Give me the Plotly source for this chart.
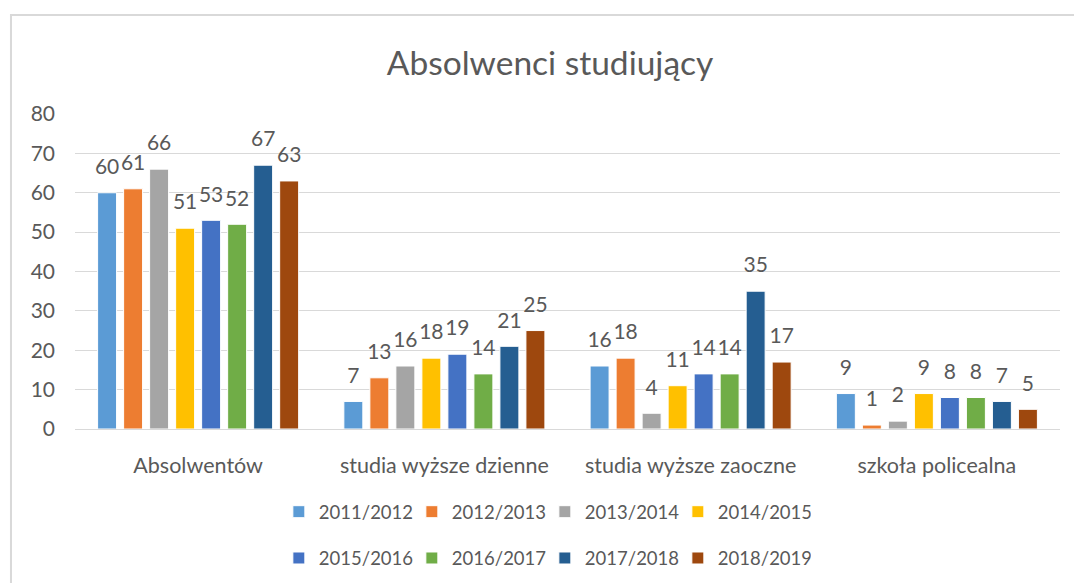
import plotly.graph_objects as go

categories = ["Absolwentów", "studia wyższe dzienne", "studia wyższe zaoczne", "szkoła policealna"]
series_names = ["2011/2012", "2012/2013", "2013/2014", "2014/2015",
                "2015/2016", "2016/2017", "2017/2018", "2018/2019"]
v_2011_2012 = [60, 7, 16, 9]
v_2012_2013 = [61, 13, 18, 1]
v_2013_2014 = [66, 16, 4, 2]
v_2014_2015 = [51, 18, 11, 9]
v_2015_2016 = [53, 19, 14, 8]
v_2016_2017 = [52, 14, 14, 8]
v_2017_2018 = [67, 21, 35, 7]
v_2018_2019 = [63, 25, 17, 5]
series_values = [v_2011_2012, v_2012_2013, v_2013_2014, v_2014_2015,
                 v_2015_2016, v_2016_2017, v_2017_2018, v_2018_2019]
colors = ["#5B9BD5", "#ED7D31", "#A5A5A5", "#FFC000",
          "#4472C4", "#70AD47", "#255E91", "#9E480E"]
y_ticks = [0, 10, 20, 30, 40, 50, 60, 70, 80]

FONT = "Lato, Carlito, Calibri, sans-serif"
TXT = "#595959"
GAP = 0.155

fig = go.Figure()
for i, (name, vals, col) in enumerate(zip(series_names, series_values, colors)):
    fig.add_trace(go.Bar(
        x=categories, y=vals, name=name,
        marker=dict(color=col, line=dict(color="white", width=1)),
        offsetgroup=str(i), alignmentgroup="a",
        legend="legend" if i < 4 else "legend2",
        hoverinfo="x+y+name",
    ))
for i, (name, vals) in enumerate(zip(series_names, series_values)):
    fig.add_trace(go.Scatter(
        x=categories, y=vals, name=name, mode="markers+text",
        text=[str(v) for v in vals], textposition="top center",
        textfont=dict(family=FONT, size=21, color=TXT),
        marker=dict(size=20, color="rgba(0,0,0,0)"),
        offsetgroup=str(i), alignmentgroup="a",
        showlegend=False, hoverinfo="skip", cliponaxis=False,
    ))

legend_common = dict(
    orientation="h", xanchor="center", yanchor="middle", x=0.477,
    font=dict(family=FONT, size=18.5, color=TXT),
    itemwidth=30, entrywidth=88, entrywidthmode="pixels",
    bgcolor="rgba(0,0,0,0)", itemclick=False, itemdoubleclick=False,
)

fig.update_layout(
    width=1082, height=583,
    margin=dict(l=67, r=30, t=106, b=162),
    paper_bgcolor="white", plot_bgcolor="white",
    barmode="group", bargap=GAP, bargroupgap=0.27,
    scattermode="group", scattergap=GAP,
    title=dict(text="Absolwenci studiujący", x=0.501, xanchor="center",
               y=0.905, yanchor="middle",
               font=dict(family=FONT, size=33.5, color=TXT)),
    legend=dict(legend_common, y=-0.264),
    legend2=dict(legend_common, y=-0.411),
    showlegend=True,
    shapes=[dict(type="rect", xref="paper", yref="paper",
                 x0=-0.065, x1=1.2, y0=-0.7, y1=1.314,
                 line=dict(color="#D9D9D9", width=2), fillcolor="rgba(0,0,0,0)",
                 layer="below")],
)
fig.update_yaxes(range=[0, 80], tickvals=y_ticks, showgrid=True,
                 gridcolor="#D9D9D9", gridwidth=1, zeroline=False,
                 showline=False, ticklabelstandoff=19, automargin=False,
                 tickfont=dict(family=FONT, size=21, color=TXT))
fig.update_xaxes(showline=True, linecolor="#D9D9D9", linewidth=1,
                 ticks="", ticklabelstandoff=17, automargin=False,
                 tickfont=dict(family=FONT, size=21.5, color=TXT))

fig.write_html("out.html")
